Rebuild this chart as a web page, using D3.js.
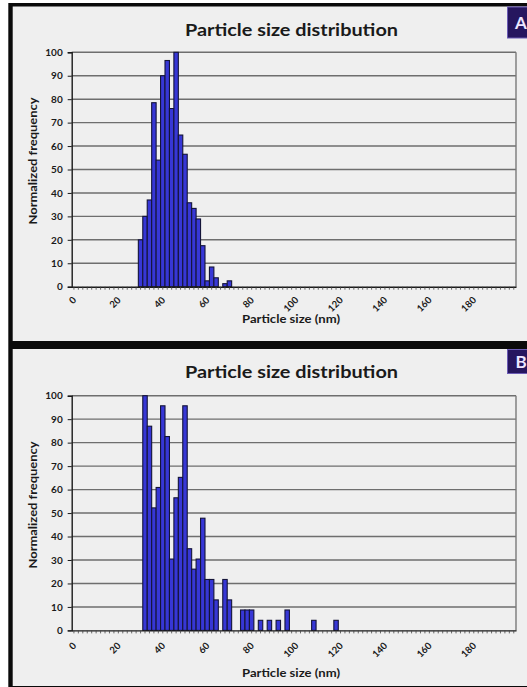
<!DOCTYPE html>
<html>
<head>
<meta charset="utf-8">
<script src="https://cdn.jsdelivr.net/npm/d3@7"></script>
<style>
  html, body { margin: 0; padding: 0; background: #ffffff; }
  svg { display: block; }
  text { font-family: Lato, "Open Sans", "Liberation Sans", sans-serif; font-weight: 700; fill: #1a1a1a; }
</style>
</head>
<body>
<script>
// Size bins (nm, 2 nm wide) used as the category axis
const binStarts = d3.range(0, 200, 2);
const xTickLabels = ["0", "20", "40", "60", "80", "100", "120", "140", "160", "180"];
const yTickValues = [0, 10, 20, 30, 40, 50, 60, 70, 80, 90, 100];

// Panel A: bin start (nm) and normalized frequency
const sizesA = [30, 32, 34, 36, 38, 40, 42, 44, 46, 48, 50, 52, 54, 56, 58, 60, 62, 64, 68, 70];
const valuesA = [20, 30, 37, 78.5, 54, 90, 96.5, 76, 100, 64.7, 56.5, 35.8, 33.4, 28.9, 17.5, 2.5, 8.4, 3.8, 1.3, 2.5];

// Panel B: bin start (nm) and normalized frequency
const sizesB = [32, 34, 36, 38, 40, 42, 44, 46, 48, 50, 52, 54, 56, 58, 60, 62, 64, 68, 70, 76, 78, 80, 84, 88, 92, 96, 108, 118];
const valuesB = [100, 87, 52.2, 60.9, 95.7, 82.6, 30.4, 56.5, 65.2, 95.7, 34.8, 26.1, 30.4, 47.8, 21.7, 21.7, 13, 21.7, 13, 8.7, 8.7, 8.7, 4.3, 4.3, 4.3, 8.7, 4.3, 4.3];

const chartTitle = "Particle size distribution";
const xAxisTitle = "Particle size (nm)";
const yAxisTitle = "Normalized frequency";
const panelLetters = ["A", "B"];

const W = 527, H = 687;
const plotLeft = 71.7, plotRight = 516;

const svg = d3.select("body").append("svg")
  .attr("width", W).attr("height", H);

const panels = [
  { letter: panelLetters[0], sizes: sizesA, values: valuesA,
    top: 6.5, bottom: 341, plotTop: 52.3, plotBottom: 286.7, badgeH: 31,
    titleY: 36, xTitleY: 323, yTitleY: 161, tickLabelDy: 12 },
  { letter: panelLetters[1], sizes: sizesB, values: valuesB,
    top: 349, bottom: 686, plotTop: 395.7, plotBottom: 630.4, badgeH: 24,
    titleY: 378, xTitleY: 677, yTitleY: 505, tickLabelDy: 14 }
];

// Dark frame around and between the two panels
svg.append("rect").attr("x", 8.3).attr("y", 3).attr("width", W - 8.3).attr("height", H - 3).attr("fill", "#0a0a0a");

const x = d3.scaleBand().domain(binStarts).range([plotLeft, plotRight]).paddingInner(0).paddingOuter(0);

panels.forEach(p => {
  const g = svg.append("g");

  // panel background
  g.append("rect")
    .attr("x", 12.7).attr("y", p.top)
    .attr("width", W - 12.7).attr("height", p.bottom - p.top)
    .attr("fill", "#efefef");

  const y = d3.scaleLinear().domain([0, 100]).range([p.plotBottom, p.plotTop]);

  // horizontal gridlines
  g.append("g").selectAll("line")
    .data(yTickValues.filter(v => v > 0))
    .join("line")
    .attr("x1", plotLeft).attr("x2", plotRight)
    .attr("y1", d => y(d)).attr("y2", d => y(d))
    .attr("stroke", "#6e6e6e").attr("stroke-width", 1.4);

  // right edge of the plot area
  g.append("line")
    .attr("x1", plotRight).attr("x2", plotRight)
    .attr("y1", y(100)).attr("y2", y(0))
    .attr("stroke", "#7a7a7a").attr("stroke-width", 1.4);

  // bars
  g.append("g").selectAll("rect")
    .data(p.sizes.map((s, i) => ({ s, v: p.values[i] })))
    .join("rect")
    .attr("x", d => x(d.s))
    .attr("width", x.bandwidth())
    .attr("y", d => y(d.v))
    .attr("height", d => y(0) - y(d.v))
    .attr("fill", "#3737d6")
    .attr("stroke", "#141438")
    .attr("stroke-width", 1.1);

  // y axis
  const yAxis = g.append("g")
    .attr("transform", `translate(${plotLeft},0)`)
    .call(d3.axisLeft(y).tickValues(yTickValues).tickSize(4).tickPadding(5));
  yAxis.select(".domain").attr("stroke", "#1a1a1a").attr("stroke-width", 1.4);
  yAxis.selectAll(".tick line").attr("stroke", "#1a1a1a");
  yAxis.selectAll(".tick text").attr("font-size", 10).attr("font-family", null).attr("fill", "#1a1a1a");

  // x axis with a minor tick for every bin
  const xAxis = g.append("g")
    .attr("transform", `translate(0,${p.plotBottom})`)
    .call(d3.axisBottom(x).tickSize(3).tickFormat("").tickSizeOuter(0));
  xAxis.select(".domain").attr("stroke", "#1a1a1a").attr("stroke-width", 1.4);
  xAxis.selectAll(".tick line").attr("stroke", "#444").attr("stroke-width", 0.8);

  // rotated category labels every 20 nm
  g.append("g").selectAll("text")
    .data(xTickLabels)
    .join("text")
    .attr("transform", d => `translate(${x(+d) + x.bandwidth() / 2 + 1},${p.plotBottom + p.tickLabelDy}) rotate(-45)`)
    .attr("text-anchor", "end")
    .attr("dy", "0.3em")
    .attr("font-size", 9.5)
    .text(d => d);

  // titles
  g.append("text")
    .attr("x", 291.5).attr("y", p.titleY)
    .attr("text-anchor", "middle")
    .attr("font-size", 17.5)
    .attr("textLength", 213).attr("lengthAdjust", "spacingAndGlyphs")
    .text(chartTitle);

  g.append("text")
    .attr("x", 291).attr("y", p.xTitleY)
    .attr("text-anchor", "middle")
    .attr("font-size", 11)
    .attr("textLength", 98).attr("lengthAdjust", "spacingAndGlyphs")
    .text(xAxisTitle);

  g.append("text")
    .attr("transform", `translate(37,${p.yTitleY}) rotate(-90)`)
    .attr("text-anchor", "middle")
    .attr("font-size", 11)
    .attr("textLength", 127).attr("lengthAdjust", "spacingAndGlyphs")
    .text(yAxisTitle);

  // panel letter badge
  g.append("rect")
    .attr("x", 507.5).attr("y", p.top + 0.5)
    .attr("width", 21).attr("height", p.badgeH)
    .attr("fill", "#26165f").attr("stroke", "#6b5bb5").attr("stroke-width", 1);
  g.append("text")
    .attr("x", 521).attr("y", p.top + p.badgeH / 2 + 6.5)
    .attr("text-anchor", "middle")
    .attr("font-size", 17)
    .style("fill", "#ece6ff")
    .text(p.letter);
});
</script>
</body>
</html>
